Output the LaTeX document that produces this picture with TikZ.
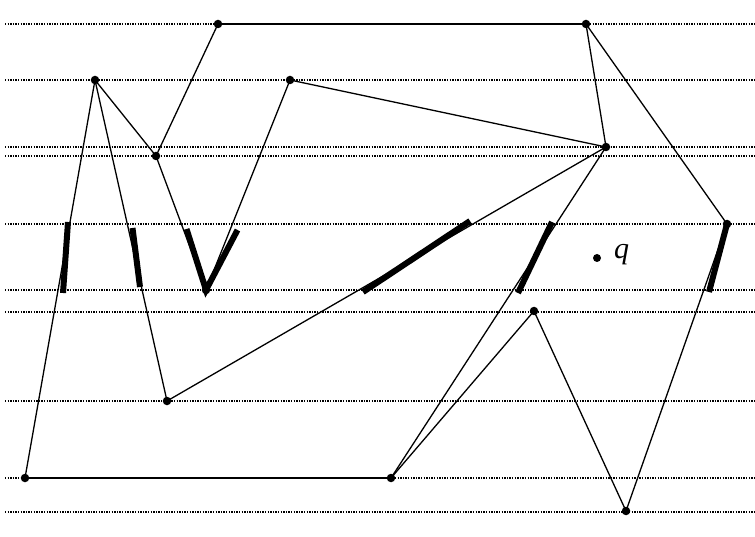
\documentclass[tikz,border=0pt]{standalone}
\usepackage{fontspec}
\setmainfont{Liberation Serif}
\begin{document}
\begin{tikzpicture}[x=1pt,y=-1pt,
  guide/.style={line width=1.3pt,dash pattern=on 1.3pt off 1.3pt},
  edge/.style={line width=1.3pt},
  bar/.style={line width=6pt},
  vtx/.style={circle,fill=black,inner sep=0pt,minimum size=8.5pt}]
\useasboundingbox (0,0) rectangle (755,537);
% guide lines
\foreach \yy in {24,80,147,156,224,290,312,401,478,512}
  \draw[guide] (5,\yy) -- (755,\yy);
% vertices
\node[vtx] (A) at (218,24) {};
\node[vtx] (B) at (586,24) {};
\node[vtx] (C) at (95,80) {};
\node[vtx] (D) at (290,80) {};
\node[vtx] (E) at (156,156) {};
\node[vtx] (F) at (606,147) {};
\node[vtx] (G) at (727,224) {};
\node[vtx] (H) at (206,290) {};
\node[vtx] (I) at (534,311) {};
\node[vtx] (J) at (167,401) {};
\node[vtx] (K) at (25,478) {};
\node[vtx] (L) at (391,478) {};
\node[vtx] (M) at (626,511) {};
\node[circle,fill=black,inner sep=0pt,minimum size=8pt] (Q) at (597,258) {};
\node[anchor=west,font=\fontsize{30}{32}\selectfont\itshape,inner sep=0pt] (ql) at (614,255) {q};
% edges
\draw[edge] (A.center) -- (B.center);
\draw[edge] (B.center) -- (F.center);
\draw[edge] (B.center) -- (G.center);
\draw[edge] (A.center) -- (E.center);
\draw[edge] (C.center) -- (E.center);
\draw[edge] (C.center) -- (K.center);
\draw[edge] (C.center) -- (J.center);
\draw[edge] (E.center) -- (H.center);
\draw[edge] (H.center) -- (D.center);
\draw[edge] (D.center) -- (F.center);
\draw[edge] (F.center) -- (J.center);
\draw[edge] (F.center) -- (L.center);
\draw[edge] (G.center) -- (M.center);
\draw[edge] (L.center) -- (I.center);
\draw[edge] (I.center) -- (M.center);
\draw[edge] (K.center) -- (L.center);
% thick bars
\coordinate (b1a) at (68,222); \coordinate (b1b) at (63,293);
\coordinate (b2a) at (132.5,228); \coordinate (b2b) at (140,287);
\coordinate (b3a) at (186.5,229); \coordinate (b3c) at (237.5,230);
\coordinate (b4a) at (363,292); \coordinate (b4b) at (470,221);
\coordinate (b5a) at (518,293); \coordinate (b5b) at (552,222);
\coordinate (b6a) at (727,224); \coordinate (b6b) at (709,292);
\draw[bar] (b1a) -- (b1b);
\draw[bar] (b2a) -- (b2b);
\draw[bar] (b3a) -- (H.center) -- (b3c);
\draw[bar] (b4a) -- (b4b);
\draw[bar] (b5a) -- (b5b);
\draw[bar] (b6a) -- (b6b);
\end{tikzpicture}
\end{document}
